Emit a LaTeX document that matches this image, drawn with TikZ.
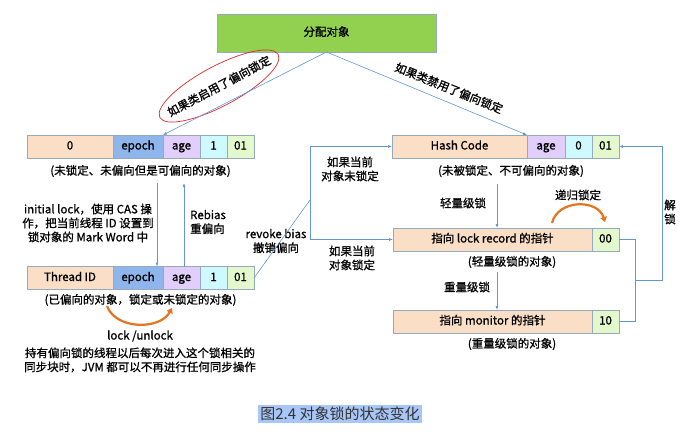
\documentclass[tikz,border=0pt]{standalone}
\usepackage{fontspec}
\setmainfont{Noto Sans CJK SC}[FakeBold=1]
\newfontfamily\captfont{Noto Sans CJK SC}
\usetikzlibrary{positioning,arrows.meta}
\definecolor{mygreen}{RGB}{146,208,80}
\definecolor{mypeach}{RGB}{251,222,198}
\definecolor{myepoch}{RGB}{142,182,236}
\definecolor{myage}{RGB}{226,206,250}
\definecolor{mycyan}{RGB}{206,250,255}
\definecolor{mylime}{RGB}{228,248,206}
\definecolor{myborder}{RGB}{150,170,190}
\definecolor{myline}{RGB}{100,150,210}
\definecolor{myorange}{RGB}{230,115,30}
\definecolor{myred}{RGB}{220,40,40}
\definecolor{mycapt}{RGB}{168,198,246}

\begin{document}
\begin{tikzpicture}[x=1pt,y=-1pt,
  font=\fontsize{11.5}{14}\selectfont,
  cell/.style={draw=myborder, line width=0.7pt, minimum height=23pt, inner sep=0pt, outer sep=0pt, text height=8.5pt, text depth=2.5pt},
  note/.style={align=center, inner sep=0pt},
  flow/.style={draw=myline, line width=0.6pt, -{Latex[length=4pt,width=3pt]}},
  wire/.style={draw=myline, line width=0.6pt},
  bendarrow/.style={draw=myorange, line width=2.2pt, -{Triangle[length=5pt,width=6.5pt]}}]
\useasboundingbox (0,0) rectangle (688,436);

% Allocation
\node[cell, fill=mygreen, minimum width=219pt, minimum height=38pt] (alloc) at (326.5,33) {分配对象};

% Unbiased but biasable
\node[cell, fill=mypeach, minimum width=86pt] (u0) at (70,146.5) {0};
\node[cell, fill=myepoch, minimum width=50pt, right=0pt of u0] (uepoch) {epoch};
\node[cell, fill=myage, minimum width=37pt, right=0pt of uepoch] (uage) {age};
\node[cell, fill=mycyan, minimum width=27pt, right=0pt of uage] (ubit) {1};
\node[cell, fill=mylime, minimum width=27pt, right=0pt of ubit] (uflag) {01};
\node[note] (ucap) at (140.5,171) {(未锁定、未偏向但是可偏向的对象)};

% Biased
\node[cell, fill=mypeach, minimum width=86pt] (tid) at (70,278) {Thread ID};
\node[cell, fill=myepoch, minimum width=50pt, right=0pt of tid] (tepoch) {epoch};
\node[cell, fill=myage, minimum width=37pt, right=0pt of tepoch] (tage) {age};
\node[cell, fill=mycyan, minimum width=27pt, right=0pt of tage] (tbit) {1};
\node[cell, fill=mylime, minimum width=27pt, right=0pt of tbit] (tflag) {01};
\node[note] (tcap) at (140.5,300) {(已偏向的对象，锁定或未锁定的对象)};

% Not biasable
\node[cell, fill=mypeach, minimum width=135pt] (hhash) at (459.5,146.5) {Hash Code};
\node[cell, fill=myage, minimum width=38pt, right=0pt of hhash] (hage) {age};
\node[cell, fill=mycyan, minimum width=27pt, right=0pt of hage] (hbit) {0};
\node[cell, fill=mylime, minimum width=27pt, right=0pt of hbit] (h01) {01};
\node[note] (hcap) at (511,171) {(未被锁定、不可偏向的对象)};

% Light and heavy locks
\node[cell, fill=mypeach, minimum width=199pt] (lptr) at (492.5,239.5) {指向 lock record 的指针};
\node[cell, fill=mylime, minimum width=27pt, right=0pt of lptr] (l00) {00};
\node[note] (lcap) at (512,262) {(轻量级锁的对象)};
\node[cell, fill=mypeach, minimum width=199pt] (mptr) at (492.5,321.5) {指向 monitor 的指针};
\node[cell, fill=mylime, minimum width=27pt, right=0pt of mptr] (m10) {10};
\node[note] (mcap) at (512,344) {(重量级锁的对象)};

% Labels
\node[note, rotate=28] (lblon) at (219,86) {如果类启用了偏向锁定};
\draw[myred, line width=0.7pt, rotate around={28:(lblon.center)}] (lblon.center) ellipse [x radius=67, y radius=20];
\node[note, rotate=-22] (lbloff) at (449,88) {如果类禁用了偏向锁定};
\node[note] (initlbl) at (88,223) {initial lock，使用 CAS 操\\作，把当前线程 ID 设置到\\锁对象的 Mark Word 中};
\node[note, align=left, anchor=west] (rebias) at (190,222) {Rebias\\重偏向};
\node[note] (revoke) at (276,241) {revoke bias\\撤销偏向};
\node[note] (ifunl) at (350,169) {如果当前\\对象未锁定};
\node[note] (iflck) at (352,258) {如果当前\\对象锁定};
\node[note] (light) at (463,203) {轻量级锁};
\node[note] (heavy) at (467,287) {重量级锁};
\node[note] (recur) at (578,195) {递归锁定};
\node[note] (unlock) at (670,212) {解\\锁};
\node[note] (lockun) at (140,336) {lock /unlock};
\node[note] (holder) at (140,360) {持有偏向锁的线程以后每次进入这个锁相关的\\同步块时，JVM 都可以不再进行任何同步操作};
\node[fill=mycapt, inner sep=2pt, text=black!80, font=\captfont\fontsize{15}{18}\selectfont] (fig) at (340,414) {图2.4 对象锁的状态变化};

% Connections
\draw[flow] (alloc.south) -- (uage.north west);
\draw[flow] (alloc.south) -- (hage.north west);
\coordinate (initfrom) at (157,183);
\draw[flow] (initfrom) -- (initfrom |- tepoch.north);
\coordinate (rebiasto) at (184,183);
\draw[flow] (rebiasto |- tage.north) -- (rebiasto);
\coordinate (revokemid) at (310,200);
\draw[wire] (tflag.east) -- (revokemid);
\draw[flow] (revokemid) |- (hhash.west);
\draw[flow] (revokemid) |- (lptr.west);
\coordinate (lightfrom) at (497,184);
\draw[flow] (lightfrom) -- (lightfrom |- lptr.north);
\coordinate (heavyfrom) at (497,272);
\draw[flow] (heavyfrom) -- (heavyfrom |- mptr.north);
\draw[wire] (l00.east) -- ++(16,0) |- (m10.east);
\coordinate (unlockmid) at (635,280);
\draw[flow] (unlockmid) -- ++(27,0) |- (h01.east);

% Orange loops
\draw[bendarrow] (107,306) .. controls (116,330) and (160,330) .. (172,308);
\draw[bendarrow] (552,223) .. controls (558,199) and (598,199) .. (605,222);
\end{tikzpicture}
\end{document}
